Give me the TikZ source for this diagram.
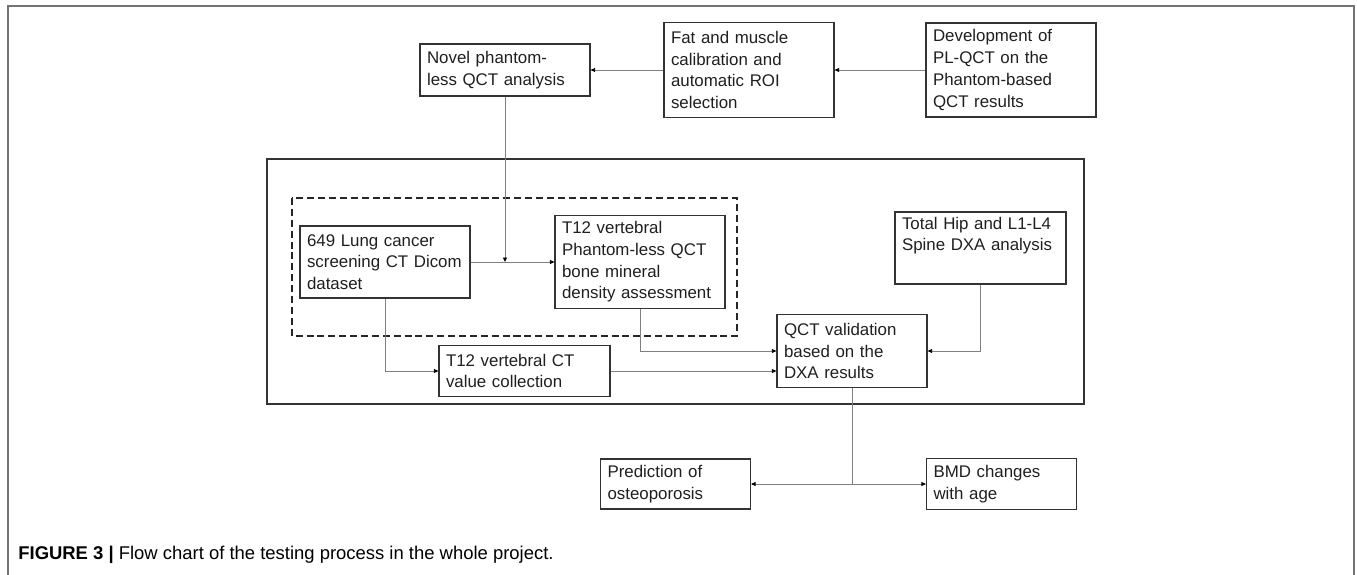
\documentclass[tikz,border=0pt]{standalone}
\usepackage{fontspec}
\setmainfont{Liberation Sans}
\usetikzlibrary{arrows.meta}
\newcommand{\boxfont}{\fontsize{9.6}{12.35}\selectfont}
\newcommand{\capfont}{\fontsize{10.5}{12.6}\selectfont}
\tikzset{
  flowbox/.style={draw=black!80, line width=0.7pt, align=left, inner xsep=0.14cm, inner ysep=1pt,
    text=black!88, font=\boxfont, text width=3.12cm},
  narrowbox/.style={flowbox, text width=2.72cm},
  link/.style={draw=black!50, line width=0.45pt},
  arrowlink/.style={-{Triangle[length=0.9mm,width=0.8mm,color=black]}},
}

\begin{document}
\begin{tikzpicture}[x=0.02cm,y=-0.02cm]
\useasboundingbox (0,0) rectangle (1357,575);

% page frame, open at the bottom
\draw[black!55, line width=1.1pt] (8,575) -- (8,6) -- (1354,6) -- (1354,575);

% top row
\node[flowbox, minimum height=1.04cm] (novel) at (505,70) {Novel phantom-\\less QCT analysis};
\node[flowbox, minimum height=1.9cm] (fat) at (749,70) {Fat and muscle\\calibration and\\automatic ROI\\selection};
\node[flowbox, minimum height=1.88cm] (dev) at (1011,70) {Development of\\PL-QCT on the\\Phantom-based\\QCT results};

% validation block
\draw[black!80, line width=0.95pt] (267,159) rectangle (1084,404);
\draw[black!85, line width=0.95pt, dash pattern=on 4pt off 2.2pt] (292,198) rectangle (737,336);

\node[flowbox, minimum height=1.44cm] (lung) at (385,262) {649 Lung cancer\\screening CT Dicom\\dataset};
\node[flowbox, minimum height=1.86cm] (pless) at (640,262) {T12 vertebral\\Phantom-less QCT\\bone mineral\\density assessment};
\node[flowbox, text width=3.14cm, minimum height=1.02cm] (ctval) at (524.5,371) {T12 vertebral CT\\value collection};
\node[flowbox, text width=3.14cm, minimum height=1.44cm] (dxa) at (980.5,248) {Total Hip and L1-L4\\Spine DXA analysis\\\strut};
\node[narrowbox, minimum height=1.46cm] (valid) at (852,351) {QCT validation\\based on the\\DXA results};

% outcomes
\node[narrowbox, minimum height=1.0cm] (pred) at (675.5,484) {Prediction of\\osteoporosis};
\node[narrowbox, minimum height=1.02cm] (bmd) at (1001.5,484) {BMD changes\\with age};

% connectors
\draw[link, arrowlink] (dev) -- (fat);
\draw[link, arrowlink] (fat) -- (novel);
\coordinate (join) at (novel.south |- lung.east);
\draw[link, arrowlink] (novel) -- (join);
\draw[link, arrowlink] (lung) -- (pless);
\draw[link, arrowlink] (lung) |- (ctval);
\draw[link, arrowlink] (pless) |- (valid);
\draw[link, arrowlink] (ctval) -- (ctval.east -| valid.west);
\draw[link, arrowlink] (dxa) |- (valid);
\coordinate (split) at (valid.south |- pred.east);
\draw[link] (valid) -- (split);
\draw[link, arrowlink] (split) -- (pred);
\draw[link, arrowlink] (split) -- (bmd);

% caption
\node[anchor=base west, inner sep=0pt, font=\capfont] (caption) at (18,559)
  {\textbf{FIGURE 3 |} Flow chart of the testing process in the whole project.};
\end{tikzpicture}
\end{document}
